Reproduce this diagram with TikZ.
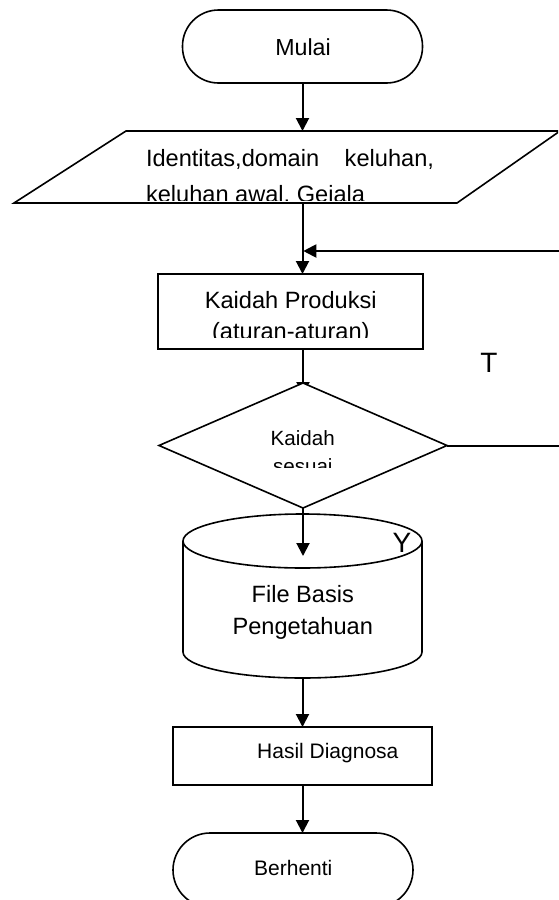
\documentclass[tikz,border=0pt]{standalone}
\usepackage{fontspec}
\setmainfont{Liberation Sans}
\usetikzlibrary{shapes.geometric,arrows.meta}
\pgfdeclarelayer{bg}
\pgfsetlayers{bg,main}
\begin{document}
\begin{tikzpicture}[x=1pt,y=-1pt,
  shp/.style={draw,line width=1.6pt,fill=white,inner sep=0pt,outer sep=0pt},
  term/.style={shp,rectangle,rounded corners=36pt,minimum width=240pt,minimum height=73pt},
  procbox/.style={shp,rectangle},
  arr/.style={line width=2pt,-{Triangle[length=13pt,width=13pt]}},
  txt/.style={inner sep=0pt,outer sep=0pt,anchor=base},
  bigf/.style={font=\fontsize{23.6pt}{28pt}\selectfont},
  midf/.style={font=\fontsize{21pt}{25pt}\selectfont},
  smallf/.style={font=\fontsize{20.6pt}{25pt}\selectfont},
  labf/.style={font=\fontsize{28pt}{32pt}\selectfont}
]
\useasboundingbox (0,0) rectangle (558,900);
\clip (0,0) rectangle (558,900);

% start
\node[term] (mulai) at (302.5,46.5) {};
\node[txt,font=\fontsize{23.2pt}{28pt}\selectfont] (tmulai) at (303,55) {Mulai};

% input parallelogram
\draw[line width=1.6pt,fill=white] (14,203) -- (126,131) -- (560,131) -- (457,203) -- cycle;
\coordinate (ptop) at (302.5,131);
\coordinate (pbot) at (302.5,203);
\begin{scope}
  \clip (0,0) rectangle (558,200.5);
  \node[txt,bigf,anchor=base west] (tin1) at (146,166) {\makebox[288pt][l]{Identitas,domain\hfill keluhan,}};
  \node[txt,bigf,anchor=base west] (tin2) at (146,202) {keluhan awal, Gejala};
\end{scope}

% rules box
\node[procbox,minimum width=265pt,minimum height=75pt] (kp) at (290.5,311.5) {};
\node[txt,bigf] (tkp1) at (290.8,308) {Kaidah Produksi};
\begin{scope}
  \clip (0,0) rectangle (558,337.5);
  \node[txt,bigf] (tkp2) at (290.8,339.5) {(aturan-aturan)};
\end{scope}

% decision
\node[shp,diamond,minimum width=288pt,minimum height=125pt] (dia) at (303,445.5) {};
\node[txt,smallf] (tdia1) at (302.8,445) {Kaidah};
\begin{scope}
  \clip (0,0) rectangle (558,467);
  \node[txt,smallf] (tdia2) at (302.8,473) {sesuai};
\end{scope}

% cylinder (knowledge base file)
\node[inner sep=0pt,outer sep=0pt,minimum width=239pt,minimum height=164pt] (cyl) at (302.5,596) {};
\draw[line width=1.6pt,fill=white] (183,541) -- (183,652)
  arc[start angle=180,end angle=360,x radius=119.5pt,y radius=26pt]
  -- (422,541)
  arc[start angle=0,end angle=180,x radius=119.5pt,y radius=27pt] -- cycle;
\draw[line width=1.6pt] (183,541) arc[start angle=180,end angle=360,x radius=119.5pt,y radius=27pt];
\coordinate (cyltip) at (302.5,556);
\coordinate (cylbot) at (302.5,678);
\node[txt,bigf] (tcyl1) at (302.8,602.7) {File Basis};
\node[txt,bigf] (tcyl2) at (302.8,634.3) {Pengetahuan};

% result
\node[procbox,minimum width=259pt,minimum height=58pt] (hasil) at (302.5,756) {};
\node[txt,midf] (thasil) at (327.8,758) {Hasil Diagnosa};

% stop
\node[term,minimum height=74pt,rounded corners=37pt] (stop) at (293,870) {};
\node[txt,midf] (tstop) at (293.3,875) {Berhenti};

% connectors
\coordinate (fbx) at (566,251);
\coordinate (fbend) at (303.3,251);
\begin{pgfonlayer}{bg}
  \draw[arr] (mulai.south) -- (ptop);
  \draw[arr] (pbot) -- (pbot |- kp.north);
  \draw[arr] (kp.south -| dia.north) -- ([yshift=-12pt]dia.north);
  \draw[arr] (dia.east) -- (dia.east -| fbx) |- (fbend);
  \draw[arr] (cylbot) -- (hasil.north);
  \draw[arr] (hasil.south) -- (hasil.south |- stop.north);
\end{pgfonlayer}
\draw[arr] (dia.south) -- (dia.south |- cyltip);

% labels
\node[txt,labf] (lT) at (489,372) {T};
\node[txt,labf] (lY) at (402,552) {Y};
\end{tikzpicture}
\end{document}
